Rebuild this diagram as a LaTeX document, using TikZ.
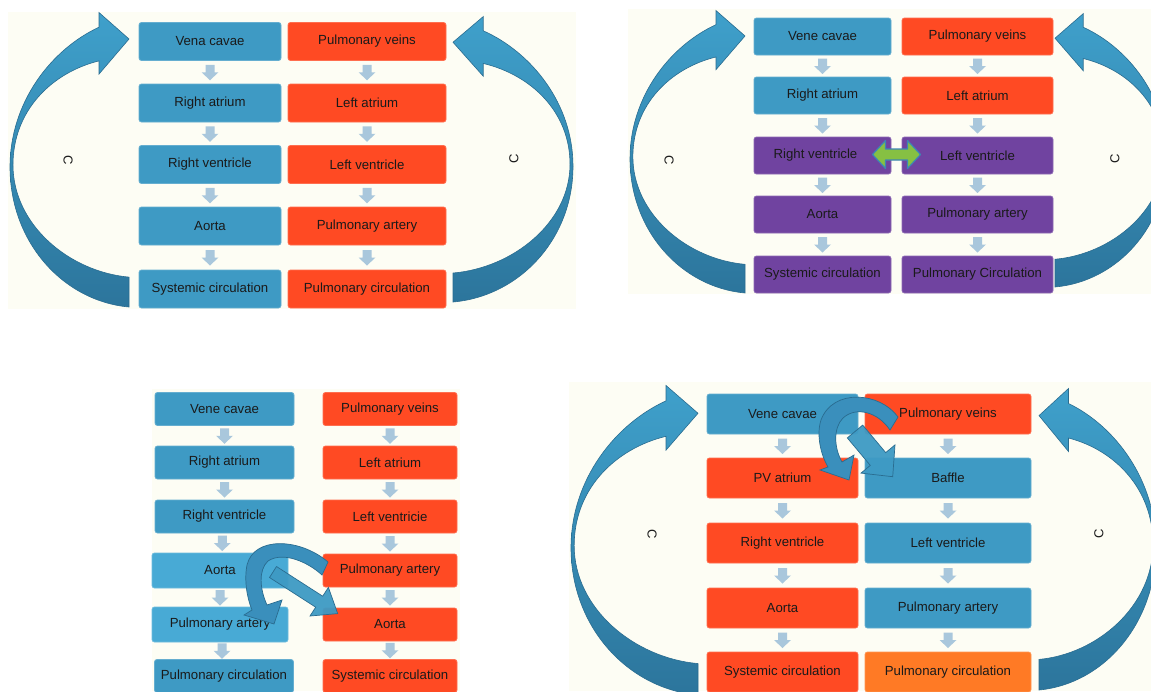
\documentclass[tikz,border=0pt]{standalone}
\usepackage{fontspec}
\setmainfont{Liberation Sans}
\usetikzlibrary{calc}
\definecolor{bg}{HTML}{FDFDF4}
\definecolor{bblue}{HTML}{3E9AC4}
\definecolor{lblue}{HTML}{48AAD5}
\definecolor{bred}{HTML}{FF4A23}
\definecolor{bpurple}{HTML}{7043A0}
\definecolor{borange}{HTML}{FF7A25}
\definecolor{sarrow}{HTML}{A9C7DC}
\definecolor{arrtop}{HTML}{3FA0CB}
\definecolor{arrbot}{HTML}{2C759C}
\definecolor{arrline}{HTML}{2A6C90}
\definecolor{carrfill}{HTML}{3A8FBC}
\definecolor{gfill}{HTML}{86C043}
\definecolor{gline}{HTML}{3D85B5}
\definecolor{txt}{HTML}{1A1A1A}
\tikzset{
  box/.style={rectangle, rounded corners=2.5pt, fill=#1, draw=#1!80!white, line width=0.8pt,
    text=txt, font=\fontsize{13.2}{15}\selectfont, inner sep=0pt},
  pAL/.style={minimum width=142pt, minimum height=38pt},
  pAR/.style={minimum width=158pt, minimum height=38pt},
  pBL/.style={minimum width=137pt, minimum height=37pt},
  pBR/.style={minimum width=151pt, minimum height=37pt},
  pCL/.style={minimum width=139pt, minimum height=33pt},
  pCM/.style={minimum width=136pt, minimum height=35pt},
  pCR/.style={minimum width=134pt, minimum height=33pt},
  pDL/.style={minimum width=151pt, minimum height=40pt},
  pDR/.style={minimum width=166pt, minimum height=40pt},
  smallarr/.style={fill=sarrow},
  bigarr/.style={top color=arrtop, bottom color=arrbot, draw=arrline, line width=0.6pt},
  carr/.style={fill=carrfill, draw=arrline, line width=0.7pt},
  sarr/.style={fill=bblue, draw=arrline, line width=0.7pt, fill opacity=0.95},
  garr/.style={fill=gfill, draw=gline, line width=1.2pt, line join=round},
  clabel/.style={text=txt, font=\fontsize{13}{15}\selectfont, inner sep=0pt},
  panel/.style={fill=bg}
}
\newcommand\dn[2]{%
  \path[smallarr] ($(#1.south)!0.5!(#2.north)$) ++(-4.5,-7.5) -- ++(9,0) -- ++(0,7.5)
    -- ++(4,0) -- ++(-8.5,8) -- ++(-8.5,-8) -- ++(4,0) -- cycle;}
\newcommand\crescent[4]{%
  \begin{scope}[shift={(#1,#2)}, xscale=#3, yscale=#4]
    \path[bigarr] (0.748,0.045) .. controls (0.35,0.12) and (0,0.3) .. (0,0.522)
      .. controls (0,0.78) and (0.45,0.98) .. (1,1)
      -- (1,0.898) .. controls (0.5,0.88) and (0.025,0.72) .. (0.025,0.515)
      .. controls (0.025,0.33) and (0.35,0.2) .. (0.748,0.16)
      -- (0.748,0.205) -- (1,0.0853) -- (0.748,-0.005) -- cycle;
  \end{scope}}
\begin{document}
\begin{tikzpicture}[x=1pt, y=-1pt]
\useasboundingbox (0,0) rectangle (1151,691);
\clip (0,0) rectangle (1151,691);
\fill[white] (0,0) rectangle (1151,691);
% panel backgrounds
\fill[panel] (8,12) rectangle (576,309);
\fill[panel] (628,9) rectangle (1151,294);
\fill[panel] (152,389) rectangle (460,691);
\fill[panel] (569,382) rectangle (1151,691);

% ---------- panel 1 ----------
\crescent{10}{14}{119}{293}
\crescent{573}{18}{-120}{284}
\node[box=bblue,pAL] (a1) at (210,41.5) {Vena cavae};
\node[box=bblue,pAL] (a2) at (210,103) {Right atrium};
\node[box=bblue,pAL] (a3) at (210,164.5) {Right ventricle};
\node[box=bblue,pAL] (a4) at (210,226) {Aorta};
\node[box=bblue,pAL] (a5) at (210,289) {Systemic circulation};
\node[box=bred,pAR] (b1) at (367,41.5) {Pulmonary veins};
\node[box=bred,pAR] (b2) at (367,103) {Left atrium};
\node[box=bred,pAR] (b3) at (367,164.5) {Left ventricle};
\node[box=bred,pAR] (b4) at (367,226) {Pulmonary artery};
\node[box=bred,pAR] (b5) at (367,289) {Pulmonary circulation};
\node[clabel, rotate=-90] (ca) at (68,160) {C};
\node[clabel, rotate=90] (cb) at (514,159) {C};

% ---------- panel 2 ----------
\crescent{630}{12}{115}{281}
\crescent{1167}{15}{-112}{272}
\node[box=bblue,pBL] (c1) at (822.5,36.5) {Vene cavae};
\node[box=bblue,pBL] (c2) at (822.5,95.5) {Right atrium};
\node[box=bpurple,pBL] (c3) at (822.5,155.5) {Right ventricle\hspace*{14pt}};
\node[box=bpurple,pBL] (c4) at (822.5,214.5) {Aorta};
\node[box=bpurple,pBL] (c5) at (822.5,274.5) {Systemic circulation};
\node[box=bred,pBR] (d1) at (977.5,36.5) {Pulmonary veins};
\node[box=bred,pBR] (d2) at (977.5,95.5) {Left atrium};
\node[box=bpurple,pBR] (d3) at (977.5,155.5) {Left ventricle};
\node[box=bpurple,pBR] (d4) at (977.5,214.5) {Pulmonary artery};
\node[box=bpurple,pBR] (d5) at (977.5,274.5) {Pulmonary Circulation};
\node[clabel, rotate=-90] (cc) at (669,160) {C};
\node[clabel, rotate=90] (cd) at (1115,159) {C};
\coordinate (gm) at ($(c3.east)!0.5!(d3.west)$);
\path[garr] ([shift={(-24,-1)}]gm) -- ([shift={(-11,-15)}]gm) -- ([shift={(-11,-6.5)}]gm)
  -- ([shift={(11,-6.5)}]gm) -- ([shift={(11,-15)}]gm) -- ([shift={(24,-1)}]gm)
  -- ([shift={(11,13)}]gm) -- ([shift={(11,4.5)}]gm) -- ([shift={(-11,4.5)}]gm)
  -- ([shift={(-11,13)}]gm) -- cycle;

% ---------- panel 3 ----------
\node[box=bblue,pCL] (e1) at (224.5,409) {Vene cavae};
\node[box=bblue,pCL] (e2) at (224.5,462.5) {Right atrium};
\node[box=bblue,pCL] (e3) at (224.5,516.5) {Right ventricle};
\node[box=lblue,pCM] (e4) at (220,570.5) {Aorta};
\node[box=lblue,pCM] (e5) at (220,624.5) {Pulmonary artery};
\node[box=bblue,pCL] (e6) at (224,676) {Pulmonary circulation};
\node[box=bred,pCR] (f1) at (390,409) {Pulmonary veins};
\node[box=bred,pCR] (f2) at (390,462.5) {Left atrium};
\node[box=bred,pCR] (f3) at (390,516.5) {Left ventricie};
\node[box=bred,pCR] (f4) at (390,570.5) {Pulmonary artery};
\node[box=bred,pCR] (f5) at (390,624.5) {Aorta};
\node[box=bred,pCR] (f6) at (390,676) {Systemic circulation};

% ---------- panel 4 ----------
\crescent{571}{387}{127}{308}
\crescent{1156}{390}{-117}{300}
\node[box=bblue,pDL] (g1) at (782.5,414) {Vene cavae};
\node[box=bred,pDL] (g2) at (782.5,478) {PV atrium};
\node[box=bred,pDL] (g3) at (782.5,543) {Right ventricle};
\node[box=bred,pDL] (g4) at (782.5,608) {Aorta};
\node[box=bred,pDL] (g5) at (782.5,672) {Systemic circulation};
\node[box=bred,pDR] (h1) at (948,414) {Pulmonary veins};
\node[box=bblue,pDR] (h2) at (948,478) {Baffle};
\node[box=bblue,pDR] (h3) at (948,543) {Left ventricle};
\node[box=bblue,pDR] (h4) at (948,608) {Pulmonary artery};
\node[box=borange,pDR] (h5) at (948,672) {Pulmonary circulation};
\node[clabel, rotate=-90] (cg) at (652,534) {C};
\node[clabel, rotate=90] (ch) at (1099,534) {C};

% small down arrows
\foreach \p in {a,b,c,d,g,h}{
  \foreach \i [evaluate=\i as \j using int(\i+1)] in {1,...,4}{\dn{\p\i}{\p\j}}}
\foreach \p in {e,f}{
  \foreach \i [evaluate=\i as \j using int(\i+1)] in {1,...,5}{\dn{\p\i}{\p\j}}}

% panel 3 switch arrows
\path[carr] (328,562) .. controls (300,538) and (254,536) .. (247,565)
  .. controls (244,580) and (247,598) .. (252,610) -- (244,615) -- (274,624) -- (282,600)
  -- (267,605) .. controls (260,590) and (258,570) .. (268,561)
  .. controls (283,551) and (308,562) .. (322,575) -- cycle;
\path[sarr] (276.5,566.5) -- (322.7,596.2) -- (328.4,587.4) -- (337.7,613.6)
  -- (310.0,616.0) -- (315.7,607.2) -- (269.5,577.5) -- cycle;

% panel 4 switch arrows
\path[carr] (898,417) .. controls (880,392) and (833,388) .. (821,420)
  .. controls (816,435) and (821,455) .. (828,467) -- (820,470) -- (849,480) -- (854,455)
  -- (842,462) .. controls (834,448) and (833,428) .. (843,418)
  .. controls (856,406) and (878,412) .. (890,430) -- cycle;
\path[sarr] (862.7,425.1) -- (885.7,452.6) -- (895,444.9) -- (892.7,476.7)
  -- (861,473.1) -- (870.3,465.4) -- (847.3,437.9) -- cycle;
\end{tikzpicture}
\end{document}
